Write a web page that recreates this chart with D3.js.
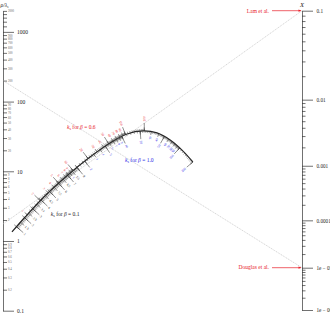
<!DOCTYPE html>
<html>
<head>
<meta charset="utf-8">
<script src="https://cdn.jsdelivr.net/npm/d3@7"></script>
<style>
  body { margin: 0; background: #fff; }
  svg { display: block; font-family: "Liberation Serif", "DejaVu Serif", serif; }
</style>
</head>
<body>
<div id="chart"></div>
<script>
// left scale: rho / lambda_s (log)
var leftMajor = [0.1, 1, 10, 100, 1000];
var leftExtra = [1200, 1400, 1600, 1800];

// right scale: X
var rightMajor = [0.1, 0.01, 0.001, 0.0001, 1e-5, 1e-6];
var rightLabels = ["0.1", "0.01", "0.001", "0.0001", "1e \u2212 05", "1e \u2212 06"];

// middle curve, nodes given as (fraction between the two axes, left-scale value)
var curveU = [0.030, 0.074, 0.140, 0.217, 0.291, 0.358, 0.415, 0.468, 0.515, 0.559, 0.602, 0.635];
var curveV = [1.35, 2.21, 4.42, 8.85, 16.0, 25.5, 34.3, 37.9, 35.5, 28.1, 19.5, 13.6];

// k scales on the curve
var blackMajor = [1, 2, 3, 4, 5, 6, 7, 8];
var blackLabels = [1, 1.5, 2, 2.5, 3, 3.5, 4, 4.5, 5, 5.5, 6, 6.5, 7, 7.5, 8];
var redMajor = [2, 5, 10, 20, 50, 100, 200];
var blueMajor = [2, 5, 10, 20, 50, 100, 200];

// reference lines (left value -> X)
var isoLeft = [200, 1.75];
var isoRight = [1e-5, 0.1];

// references marked on X
var refNames = ["Lam et al.", "Douglas et al."];
var refX = [0.1, 1e-5];

// curve titles: beta, colour, position (u, v)
var titleBeta = ["0.6", "1.0", "0.1"];
var titleColor = ["#e8202a", "#2a2ae6", "#222"];
var titleU = [0.214, 0.408, 0.160];
var titleV = [40.4, 13.6, 2.28];

var W = 330, H = 318;
var red = "#e8202a", blue = "#2a2ae6";

var svg = d3.select("#chart").append("svg")
    .attr("width", W)
    .attr("height", H);

var yL = d3.scaleLog().domain([0.1, 2000]).range([310.7, 10.9]);
var uScale = d3.scalePow().exponent(0.44).domain([1, 6]).range([10.7, 310]);
function yR(X) { return uScale(-Math.log10(X)); }
var xN = d3.scaleLinear().domain([0, 1]).range([3, 302]);

// ---- left axis
var leftMinor = yL.ticks().filter(function(d) { return leftMajor.indexOf(d) < 0; }).concat(leftExtra);
var fmt = d3.format("~g");

var gl = svg.append("g").attr("transform", "translate(3,0)");
gl.call(d3.axisRight(yL).tickValues(leftMinor).tickSize(4).tickSizeOuter(0).tickPadding(1)
    .tickFormat(function(d) { return leftExtra.indexOf(d) >= 0 ? "" : fmt(d); }));
gl.selectAll("text").attr("font-size", 3).attr("fill", "#666");
var gl2 = svg.append("g").attr("transform", "translate(3,0)");
gl2.call(d3.axisRight(yL).tickValues(leftMajor).tickSize(11).tickSizeOuter(0).tickPadding(3)
    .tickFormat(fmt));
gl2.select(".domain").remove();
svg.selectAll("g text").style("font-family", "Liberation Serif");
gl2.selectAll("text").attr("font-size", 5.5).attr("fill", "#222");

var lt = svg.append("text").attr("x", 0.5).attr("y", 6.5).attr("font-size", 5.5).attr("fill", "#222");
lt.append("tspan").attr("font-style", "italic").text("\u03C1/\u03BB");
lt.append("tspan").attr("font-size", 3.8).attr("dy", 1.2).attr("font-style", "italic").text("s");

// ---- right axis
var rightMinor = d3.scaleLog().domain([1e-6, 0.1]).ticks()
    .filter(function(d) { return rightMajor.every(function(m) { return Math.abs(d - m) / m > 1e-6; }); });

var gr = svg.append("g").attr("transform", "translate(302,0)");
gr.call(d3.axisRight(uScale).tickValues(rightMinor.map(function(d) { return -Math.log10(d); }))
    .tickSize(3.5).tickSizeOuter(0).tickFormat(""));
var gr2 = svg.append("g").attr("transform", "translate(302,0)");
gr2.call(d3.axisRight(uScale).tickValues(rightMajor.map(function(d) { return -Math.log10(d); }))
    .tickSize(11).tickSizeOuter(0).tickPadding(3.5)
    .tickFormat(function(d, i) { return rightLabels[i]; }));
gr2.select(".domain").remove();
gr2.selectAll("text").attr("font-size", 5.2).attr("fill", "#222").style("font-family", "Liberation Serif");
svg.selectAll(".tick line, .domain").attr("stroke", "#333").attr("stroke-width", 0.7);
svg.append("text").attr("x", 302).attr("y", 6.5).attr("text-anchor", "middle")
    .attr("font-size", 6.5).attr("font-style", "italic").attr("fill", "#222").text("X");

// ---- isopleths
isoLeft.forEach(function(v, i) {
  svg.append("line")
      .attr("x1", xN(0)).attr("y1", yL(v))
      .attr("x2", xN(1)).attr("y2", yR(isoRight[i]))
      .attr("stroke", "#b8b8b8").attr("stroke-width", 0.6)
      .attr("stroke-dasharray", "1.2,0.8");
});

// ---- reference arrows
svg.append("defs").append("marker")
    .attr("id", "arr").attr("viewBox", "0 0 10 10").attr("refX", 9).attr("refY", 5)
    .attr("markerWidth", 4).attr("markerHeight", 4).attr("orient", "auto")
  .append("path").attr("d", "M0,1L10,5L0,9z").attr("fill", red);

refNames.forEach(function(name, i) {
  var y = yR(refX[i]);
  svg.append("line").attr("x1", 272).attr("x2", 301).attr("y1", y).attr("y2", y)
      .attr("stroke", red).attr("stroke-width", 0.7).attr("marker-end", "url(#arr)");
  svg.append("text").attr("x", 269).attr("y", y + 1.8).attr("text-anchor", "end")
      .attr("font-size", 5.5).attr("fill", red).text(name);
});

// ---- curve
var nodes = curveU.map(function(u, i) { return [xN(u), yL(curveV[i])]; });
var line = d3.line().curve(d3.curveCatmullRom.alpha(0.5));
var path = svg.append("path").attr("d", line(nodes))
    .attr("fill", "none").attr("stroke", "#222").attr("stroke-width", 1.2);
var pnode = path.node(), L = pnode.getTotalLength();

function at(f) {
  var s = Math.max(0, Math.min(L, f * L));
  var p = pnode.getPointAtLength(s);
  var a = pnode.getPointAtLength(Math.max(0, s - 0.6));
  var b = pnode.getPointAtLength(Math.min(L, s + 0.6));
  var dx = b.x - a.x, dy = b.y - a.y, n = Math.hypot(dx, dy);
  return { x: p.x, y: p.y, nx: -dy / n, ny: dx / n };
}

var blackScale = d3.scaleLinear().domain([1, 8]).range([0.03, 0.40]);
var redScale = d3.scaleLog().domain([1, 200]).range([0.10, 0.74]);
var blueScale = d3.scaleLog().domain([1, 200]).range([0.36, 1.0]);

// fine graduation of a log k scale, decade by decade
function fine(lo, hi) {
  return [].concat(d3.ticks(lo, 10, 30), d3.ticks(10, 100, 30), d3.ticks(100, hi, 12));
}

var marks = svg.append("g");

function ticks(scale, values, side, from, to, color) {
  values.forEach(function(v) {
    var p = at(scale(v));
    marks.append("line")
        .attr("x1", p.x + p.nx * side * from).attr("y1", p.y + p.ny * side * from)
        .attr("x2", p.x + p.nx * side * to).attr("y2", p.y + p.ny * side * to)
        .attr("stroke", color).attr("stroke-width", 0.5);
  });
}

function labels(scale, values, side, off, color, size) {
  values.forEach(function(v) {
    var p = at(scale(v));
    var dx = p.nx * side, dy = p.ny * side;
    var ang = Math.atan2(dy, dx) * 180 / Math.PI, anchor = "start";
    if (ang > 90 || ang < -90) { ang += 180; anchor = "end"; }
    var x = p.x + dx * off, y = p.y + dy * off;
    marks.append("text")
        .attr("transform", "translate(" + x + "," + y + ") rotate(" + ang + ")")
        .attr("dy", "0.35em").attr("text-anchor", anchor)
        .attr("font-size", size).attr("fill", color).text(fmt(v));
  });
}

// black (beta = 0.1), lower side
ticks(blackScale, blackScale.ticks(70), 1, 0, 3, "#333");
ticks(blackScale, blackLabels, 1, 0, 5, "#333");
ticks(blackScale, blackMajor, 1, -3, 9, "#222");
labels(blackScale, blackLabels.filter(function(d) { return blackMajor.indexOf(d) < 0; }), 1, 6.5, "#222", 3.2);
labels(blackScale, blackMajor, 1, 10.5, "#222", 3.4);

// red (beta = 0.6), upper side
var redTicks = redScale.ticks();
ticks(redScale, fine(1, 200), -1, 0, 2, "#444");
ticks(redScale, redTicks, -1, 0, 3.5, "#333");
ticks(redScale, redMajor, -1, 0, 8, "#222");
labels(redScale, redTicks.filter(function(d) { return redMajor.indexOf(d) < 0; }), -1, 5, red, 3.2);
labels(redScale, redMajor, -1, 9.5, red, 3.4);

// blue (beta = 1.0), lower side
var blueTicks = blueScale.ticks();
ticks(blueScale, fine(1, 200), 1, 0, 2, "#444");
ticks(blueScale, blueTicks, 1, 0, 3.5, "#333");
ticks(blueScale, blueMajor, 1, 0, 8, "#222");
labels(blueScale, blueTicks.filter(function(d) { return blueMajor.indexOf(d) < 0; }), 1, 5, blue, 3.2);
labels(blueScale, blueMajor, 1, 9.5, blue, 3.4);

// curve titles
titleBeta.forEach(function(b, i) {
  var t = svg.append("text").attr("x", xN(titleU[i])).attr("y", yL(titleV[i]))
      .attr("font-size", 5.5).attr("fill", titleColor[i]);
  t.append("tspan").attr("font-style", "italic").text("k");
  t.append("tspan").attr("font-size", 3.8).attr("dy", 1.2).text("s");
  t.append("tspan").attr("dy", -1.2).text(" for ");
  t.append("tspan").attr("font-style", "italic").text("\u03B2");
  t.append("tspan").text(" = " + b);
});
</script>
</body>
</html>
